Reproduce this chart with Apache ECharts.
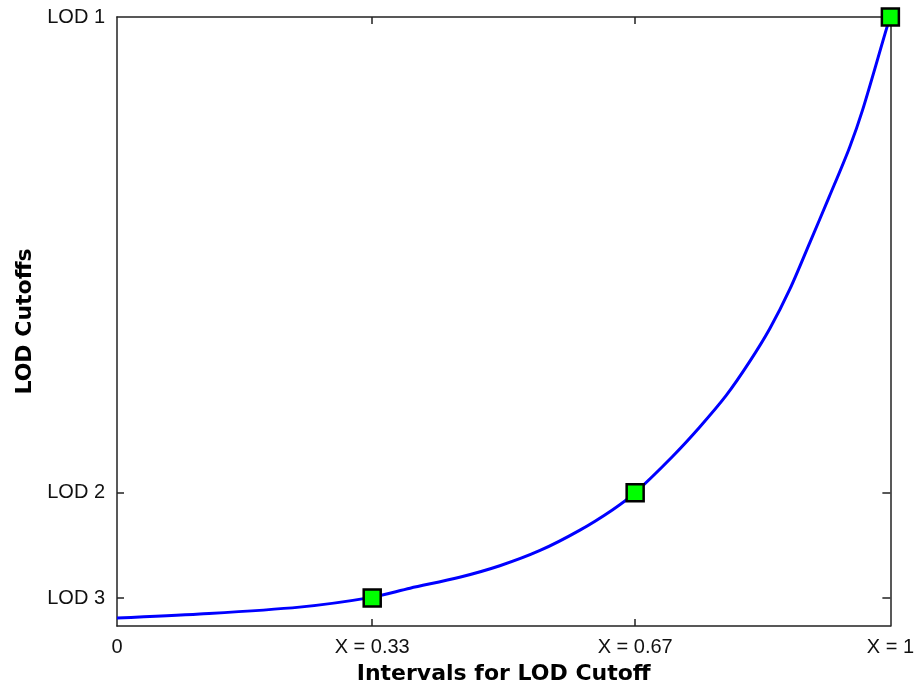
<!DOCTYPE html>
<html>
<head>
<meta charset="utf-8">
<script src="https://cdn.jsdelivr.net/npm/echarts@6/dist/echarts.min.js"></script>
<style>html,body{margin:0;padding:0;background:#fff;}#c{width:917px;height:690px;}</style>
</head>
<body>
<div id="c"></div>
<script>
// Curve
const curveX = [0, 0.107, 0.236, 0.327, 0.379, 0.443, 0.495, 0.547, 0.598, 0.641, 0.67, 0.718, 0.753, 0.788, 0.818, 0.844, 0.870, 0.896, 0.921, 0.947, 0.964, 0.996, 1];
const curveY = [0.013, 0.0196, 0.031, 0.0466, 0.0621, 0.080, 0.0989, 0.124, 0.157, 0.191, 0.219, 0.278, 0.326, 0.379, 0.434, 0.488, 0.553, 0.630, 0.705, 0.785, 0.847, 0.985, 1];
// Marker points
const markerX = [0.33, 0.67, 1];
const markerY = [0.046, 0.219, 1];
// Tick labels
const xTickValues = [0, 0.33, 0.67, 1];
const xTickLabels = ['0', 'X = 0.33', 'X = 0.67', 'X = 1'];
const yTickValues = [0.046, 0.219, 1];
const yTickLabels = ['LOD 3', 'LOD 2', 'LOD 1'];

const lineColor = '#222';
const chart = echarts.init(document.getElementById('c'), null, {renderer: 'canvas'});
const labelFont = {fontFamily: 'Liberation Sans', fontSize: 20, color: '#111'};
const titleFont = {fontFamily: 'DejaVu Sans', fontWeight: 'bold', fontSize: 22, color: '#000'};

function xFmt(v) { const i = xTickValues.findIndex(t => Math.abs(t - v) < 1e-6); return i >= 0 ? xTickLabels[i] : ''; }
function yFmt(v) { const i = yTickValues.findIndex(t => Math.abs(t - v) < 1e-6); return i >= 0 ? yTickLabels[i] : ''; }

chart.setOption({
  animation: false,
  backgroundColor: '#fff',
  grid: {left: 117, right: 26, top: 17, bottom: 61, containLabel: false},
  xAxis: [{
    type: 'value', min: 0, max: 1, position: 'bottom',
    name: 'Intervals for LOD Cutoff', nameLocation: 'middle', nameGap: 37, nameTextStyle: titleFont,
    axisLine: {show: true, onZero: false, lineStyle: {color: lineColor, width: 1.5}},
    axisTick: {show: true, inside: true, length: 7, customValues: xTickValues.slice(1, 3), lineStyle: {color: lineColor, width: 1.5}},
    axisLabel: {show: true, customValues: xTickValues, formatter: xFmt, margin: 11, ...labelFont},
    splitLine: {show: false}
  }, {
    type: 'value', min: 0, max: 1, position: 'top',
    axisLine: {show: true, onZero: false, lineStyle: {color: lineColor, width: 1.5}},
    axisTick: {show: true, inside: true, length: 7, customValues: xTickValues.slice(1, 3), lineStyle: {color: lineColor, width: 1.5}},
    axisLabel: {show: false},
    splitLine: {show: false}
  }],
  yAxis: [{
    type: 'value', min: 0, max: 1, position: 'left',
    name: 'LOD Cutoffs', nameLocation: 'middle', nameGap: 80, nameTextStyle: titleFont,
    axisLine: {show: true, onZero: false, lineStyle: {color: lineColor, width: 1.5}},
    axisTick: {show: true, inside: true, length: 7, customValues: yTickValues.slice(0, 2), lineStyle: {color: lineColor, width: 1.5}},
    axisLabel: {show: true, customValues: yTickValues, formatter: yFmt, margin: 12, ...labelFont},
    splitLine: {show: false}
  }, {
    type: 'value', min: 0, max: 1, position: 'right',
    axisLine: {show: true, onZero: false, lineStyle: {color: lineColor, width: 1.5}},
    axisTick: {show: true, inside: true, length: 8, customValues: yTickValues.slice(0, 2), lineStyle: {color: lineColor, width: 1.5}},
    axisLabel: {show: false},
    splitLine: {show: false}
  }],
  series: [{
    type: 'line',
    data: curveX.map((x, i) => [x, curveY[i]]),
    smooth: 0.3,
    showSymbol: false,
    lineStyle: {color: '#0000ff', width: 3},
    z: 2
  }, {
    type: 'scatter',
    data: markerX.map((x, i) => [x, markerY[i]]),
    symbol: 'rect',
    symbolSize: 17,
    itemStyle: {color: '#00ff00', borderColor: '#000', borderWidth: 2.5, opacity: 1},
    z: 3
  }]
});
</script>
</body>
</html>
